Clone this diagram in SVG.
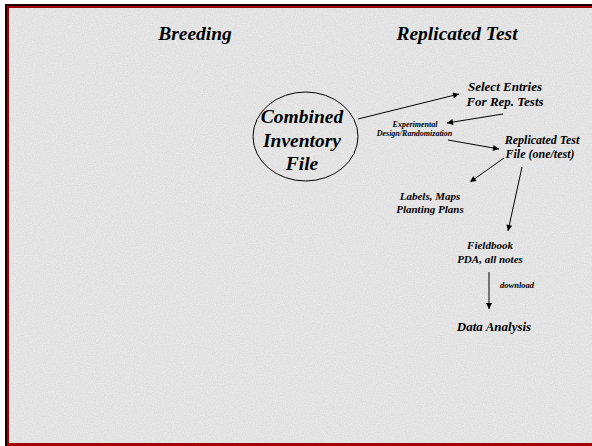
<svg xmlns="http://www.w3.org/2000/svg" width="592" height="446" viewBox="0 0 592 446">
  <style>
    .t { font-family: "Liberation Serif", "Times New Roman", serif; font-weight: bold; font-style: italic; fill: #000; text-anchor: middle; }
    .edge { stroke: #000; stroke-width: 1; fill: none; marker-end: url(#arrow); }
  </style>
  <defs>
    <marker id="arrow" viewBox="0 0 10 10" refX="10" refY="5" markerWidth="7" markerHeight="6" markerUnits="userSpaceOnUse" orient="auto">
      <path d="M0,0 L10,5 L0,10 z" fill="#000"/>
    </marker>
    <filter id="grain" x="0" y="0" width="100%" height="100%">
      <feTurbulence type="fractalNoise" baseFrequency="0.9" numOctaves="2" seed="3" result="n"/>
      <feColorMatrix in="n" type="matrix" values="0 0 0 0 0.5  0 0 0 0 0.5  0 0 0 0 0.5  0 0 0 0.5 -0.1" result="g"/>
      <feComposite in="g" in2="SourceGraphic" operator="in"/>
    </filter>
  </defs>

  <!-- page and slide frame -->
  <rect x="0" y="0" width="592" height="446" fill="#ffffff"/>
  <rect x="5" y="4" width="587" height="442" fill="#ebebeb"/>
  <rect x="5" y="4" width="587" height="442" fill="#ebebeb" filter="url(#grain)"/>
  <rect x="5" y="4" width="587" height="2" fill="#1a0000"/>
  <rect x="5" y="4" width="2" height="442" fill="#1a0000"/>
  <rect x="7" y="6" width="585" height="2" fill="#a00000"/>
  <rect x="7" y="6" width="2" height="440" fill="#a00000"/>
  <rect x="7" y="443" width="585" height="3" fill="#a00000"/>

  <!-- column headings -->
  <g id="heading-breeding"><text class="t" x="195" y="40" font-size="19.5">Breeding</text></g>
  <g id="heading-replicated"><text class="t" x="457" y="40" font-size="19.5">Replicated Test</text></g>

  <!-- connectors -->
  <g id="connectors">
    <line class="edge" x1="358" y1="119" x2="459" y2="94"/>
    <line class="edge" x1="503" y1="114" x2="447" y2="123"/>
    <line class="edge" x1="448" y1="140" x2="499" y2="149"/>
    <line class="edge" x1="504" y1="158" x2="470" y2="182"/>
    <line class="edge" x1="522" y1="167" x2="508" y2="231"/>
    <line class="edge" x1="489" y1="272" x2="489" y2="309"/>
    <text class="t" x="517" y="288" font-size="8.5">download</text>
  </g>

  <g id="combined-inventory">
    <ellipse cx="305.5" cy="136.5" rx="52.5" ry="44.5" fill="none" stroke="#000" stroke-width="1"/>
    <text class="t" x="302" y="123" font-size="19.5">Combined</text>
    <text class="t" x="302" y="146.5" font-size="19.5">Inventory</text>
    <text class="t" x="302" y="170" font-size="19.5">File</text>
  </g>

  <g id="select-entries">
    <text class="t" x="505" y="91" font-size="13">Select Entries</text>
    <text class="t" x="505" y="106" font-size="13">For Rep. Tests</text>
  </g>

  <g id="experimental-design">
    <text class="t" x="415" y="127" font-size="8">Experimental</text>
    <text class="t" x="414.5" y="136" font-size="8">Design/Randomization</text>
  </g>

  <g id="replicated-test-file">
    <text class="t" x="542" y="144" font-size="12">Replicated Test</text>
    <text class="t" x="540" y="158" font-size="12">File (one/test)</text>
  </g>

  <g id="labels-maps">
    <text class="t" x="430" y="200" font-size="11">Labels, Maps</text>
    <text class="t" x="430" y="213" font-size="11">Planting Plans</text>
  </g>

  <g id="fieldbook">
    <text class="t" x="490" y="249" font-size="11">Fieldbook</text>
    <text class="t" x="490" y="263" font-size="11">PDA, all notes</text>
  </g>

  <g id="data-analysis">
    <text class="t" x="494" y="331" font-size="13">Data Analysis</text>
  </g>
</svg>
